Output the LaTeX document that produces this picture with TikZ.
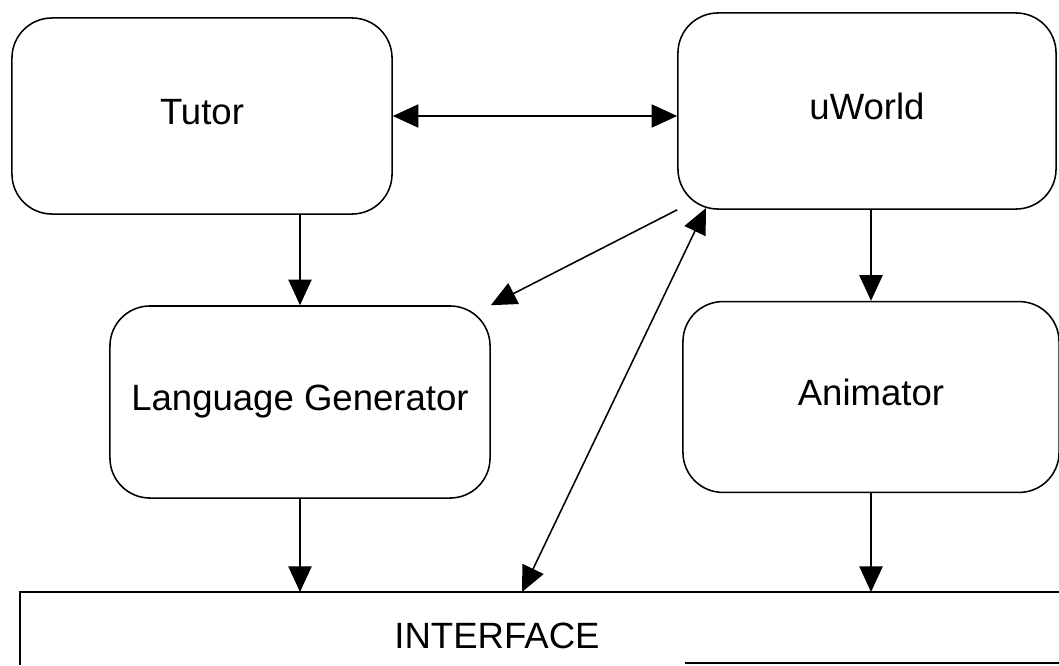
\documentclass[tikz,border=0pt]{standalone}
\usepackage{fontspec}
\setmainfont{Liberation Sans}
\usepackage{tikz}
\usetikzlibrary{arrows.meta}
\def\bigtip{{Triangle[length=0.64cm,width=0.58cm]}}

\begin{document}
\begin{tikzpicture}[x=0.025cm,y=-0.025cm,line width=1.1pt,
    blok/.style={draw,rounded corners=1cm,minimum width=9.5cm,minimum height=4.9cm,
      text height=0.75cm,text depth=0.325cm,font=\fontsize{26}{30}\selectfont},
    pijl/.style={-\bigtip},
    tweepijl/.style={\bigtip-\bigtip}]
    \useasboundingbox (0,0) rectangle (1059,665);
      \node[blok] (tutor) at (202,116) {Tutor};
      \node[blok,minimum width=9.45cm] (uworld) at (867,111) {uWorld};
      \node[blok,minimum height=4.8cm] (lang) at (300,402) {Language Generator};
      \node[blok,minimum width=9.4cm,minimum height=4.77cm] (anim) at (871,397) {Animator};
      % interface
      \coordinate (ifNW) at (20,592);
      \coordinate (ifNE) at (1059,592);
      \draw (20,665) -- (ifNW) -- (ifNE);
      \draw (685,663) -- (1059,663);
      \node[font=\fontsize{26}{30}\selectfont] (iface) at (497,636) {INTERFACE};
      \draw[tweepijl] (tutor.east) -- (tutor.east -| uworld.west);
      \draw[pijl] (tutor.south -| lang.north) -- (lang.north);
      \draw[pijl] (uworld.south -| anim.north) -- (anim.north);
      \draw[pijl] (uworld.south west) -- (lang.north east);
      \coordinate (wUp) at (706,208);
      \draw[tweepijl] (ifNW -| 522,0) -- (wUp);
      \draw[pijl] (lang.south) -- (lang.south |- ifNW);
      \draw[pijl] (anim.south) -- (anim.south |- ifNW);
    \end{tikzpicture}
\end{document}
